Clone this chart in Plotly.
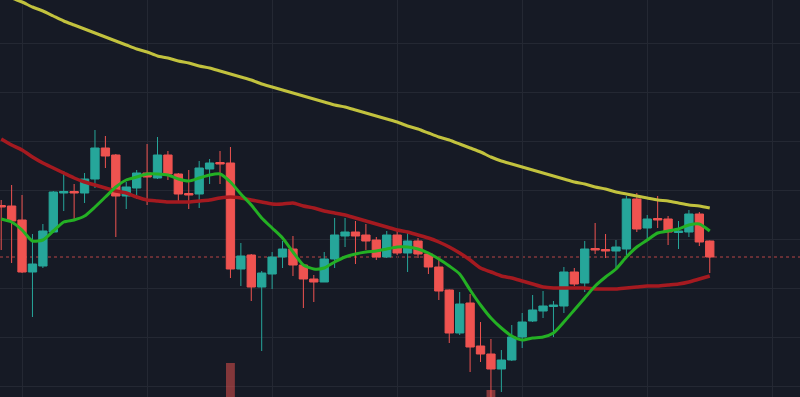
import plotly.graph_objects as go

# ---- data (prices) ----
idx = list(range(69))

opens = [29.45, 29.4, 28.0, 22.8, 23.4, 26.8, 30.7, 30.85, 30.7, 32.1,
         35.2, 34.5, 30.4, 31.2, 32.7, 32.2, 34.5, 32.6, 30.65, 30.6,
         33.1, 33.75, 33.7, 23.1, 24.5, 21.3, 22.6, 24.3, 25.1, 23.5,
         22.1, 21.8, 24.1, 26.4, 26.8, 26.5, 26.0, 24.3, 26.5, 24.7,
         25.9, 24.6, 23.3, 21.0, 16.7, 19.7, 15.4, 14.6, 13.1, 14.0,
         16.3, 17.9, 18.9, 19.35, 19.4, 22.8, 21.7, 25.15, 25.05, 24.9,
         25.1, 30.1, 27.2, 28.15, 28.1, 26.75, 26.8, 28.6, 25.9]
highs = [30.0, 31.5, 30.5, 26.6, 27.6, 30.9, 32.9, 31.6, 32.7, 37.0,
         36.4, 34.6, 31.8, 33.0, 35.6, 36.3, 34.9, 32.7, 33.0, 33.9,
         34.1, 34.9, 35.3, 25.7, 24.6, 22.9, 24.8, 25.9, 26.4, 23.5,
         22.5, 24.8, 28.2, 28.2, 27.9, 27.6, 26.3, 26.9, 27.0, 26.8,
         26.2, 24.65, 24.2, 21.05, 20.8, 20.6, 17.8, 16.1, 15.0, 17.5,
         18.7, 20.5, 20.9, 19.9, 23.3, 23.2, 25.9, 27.7, 26.6, 26.0,
         30.4, 30.7, 28.5, 30.4, 28.4, 27.9, 29.0, 28.8, 25.95]
lows = [25.0, 23.7, 22.7, 18.3, 23.2, 26.7, 28.9, 28.0, 29.7, 31.2,
        33.2, 26.3, 29.1, 30.1, 29.5, 32.1, 32.0, 29.9, 29.1, 29.2,
        31.6, 31.6, 22.2, 21.4, 19.9, 14.9, 21.1, 23.2, 22.4, 19.2,
        19.8, 21.8, 23.2, 25.3, 23.6, 25.0, 24.0, 24.2, 24.5, 22.8,
        24.2, 22.6, 20.0, 15.7, 16.5, 12.8, 13.8, 10.2, 10.8, 13.9,
        15.2, 17.8, 18.2, 16.3, 18.7, 21.4, 20.8, 24.6, 24.2, 23.2,
        24.5, 26.8, 26.0, 27.2, 25.5, 25.1, 26.3, 25.4, 22.7]
closes = [29.3, 27.9, 22.8, 23.6, 26.9, 30.8, 30.85, 30.7, 32.1, 35.2,
          34.4, 30.4, 31.3, 32.7, 32.3, 34.5, 32.6, 30.6, 30.5, 33.2,
          33.7, 33.6, 23.1, 24.4, 21.3, 22.7, 24.3, 25.1, 23.5, 22.1,
          21.8, 24.1, 26.5, 26.8, 26.4, 25.9, 24.3, 26.5, 24.7, 25.9,
          24.6, 23.3, 20.9, 16.7, 19.6, 15.3, 14.6, 13.1, 14.0, 16.3,
          17.8, 19.0, 19.4, 19.5, 22.8, 21.6, 25.1, 25.0, 24.9, 25.3,
          30.1, 27.1, 28.1, 28.0, 26.8, 26.9, 28.6, 25.8, 24.3]

volume = [0] * 69
volume[22] = 3400
volume[47] = 700

ma_fast = [28.1, 27.8, 27.0, 25.9, 26.0, 26.9, 27.8, 28.0, 28.4, 29.3,
           30.3, 31.3, 32.0, 32.3, 32.6, 32.6, 32.5, 32.1, 31.9, 32.2,
           32.5, 32.6, 31.8, 30.6, 29.5, 28.2, 27.2, 26.2, 24.8, 23.5,
           23.1, 23.2, 23.8, 24.3, 24.6, 24.8, 24.9, 25.1, 25.3, 25.3,
           25.1, 24.7, 24.1, 23.4, 22.6, 21.0, 19.5, 18.2, 17.2, 16.4,
           16.0, 16.2, 16.3, 16.7, 17.8, 19.0, 20.2, 21.4, 22.3, 23.1,
           24.3, 25.3, 26.0, 26.7, 26.9, 27.1, 27.5, 27.6, 26.9]
ma_mid = [36.1, 35.5, 35.0, 34.3, 33.7, 33.2, 32.7, 32.2, 31.8, 31.5,
          31.2, 30.9, 30.7, 30.3, 30.0, 29.9, 29.8, 29.8, 29.8, 29.9,
          30.0, 30.2, 30.3, 30.2, 30.0, 29.8, 29.6, 29.6, 29.7, 29.4,
          29.2, 28.9, 28.7, 28.5, 28.2, 27.9, 27.6, 27.3, 27.0, 26.8,
          26.5, 26.2, 25.8, 25.3, 24.7, 24.0, 23.2, 22.8, 22.4, 22.2,
          21.9, 21.6, 21.3, 21.2, 21.2, 21.2, 21.2, 21.1, 21.1, 21.1,
          21.2, 21.3, 21.4, 21.4, 21.5, 21.6, 21.8, 22.1, 22.4]
ma_slow = [50.7, 50.2, 49.8, 49.3, 48.9, 48.4, 47.9, 47.5, 47.1, 46.7,
           46.3, 45.9, 45.5, 45.1, 44.8, 44.4, 44.2, 43.9, 43.7, 43.4,
           43.2, 42.9, 42.6, 42.3, 42.0, 41.6, 41.3, 41.0, 40.7, 40.4,
           40.1, 39.8, 39.5, 39.3, 39.0, 38.7, 38.4, 38.1, 37.8, 37.4,
           37.1, 36.7, 36.3, 36.0, 35.6, 35.2, 34.8, 34.3, 33.9, 33.6,
           33.3, 33.0, 32.7, 32.4, 32.1, 31.8, 31.6, 31.3, 31.1, 30.8,
           30.6, 30.4, 30.2, 30.0, 29.9, 29.7, 29.5, 29.4, 29.2]

# ---- style ----
BG = "#161a25"
GRID = "#242833"
UP = "#26a69a"
DOWN = "#ef5350"

fig = go.Figure()

fig.add_trace(go.Bar(
    x=idx, y=volume, yaxis="y2", width=0.85,
    marker=dict(color="rgba(239,83,80,0.5)", line=dict(width=0)),
    hoverinfo="skip",
))

fig.add_trace(go.Candlestick(
    x=idx, open=opens, high=highs, low=lows, close=closes,
    increasing=dict(line=dict(color=UP, width=1), fillcolor=UP),
    decreasing=dict(line=dict(color=DOWN, width=1), fillcolor=DOWN),
    whiskerwidth=0,
))

fig.add_trace(go.Scatter(x=idx, y=ma_slow, mode="lines",
                         line=dict(color="rgb(194,194,62)", width=3, shape="spline", smoothing=0.6)))
fig.add_trace(go.Scatter(x=idx, y=ma_mid, mode="lines",
                         line=dict(color="rgb(165,26,32)", width=3.5, shape="spline", smoothing=0.6)))
fig.add_trace(go.Scatter(x=idx, y=ma_fast, mode="lines",
                         line=dict(color="rgb(36,176,36)", width=3, shape="spline", smoothing=0.6)))

fig.add_shape(type="line", xref="paper", x0=0, x1=1, yref="y",
              y0=closes[-1], y1=closes[-1],
              line=dict(color="rgba(239,83,80,0.75)", width=1, dash="dot"),
              layer="below")

fig.update_layout(
    width=800, height=397,
    margin=dict(l=0, r=0, t=0, b=0),
    paper_bgcolor=BG, plot_bgcolor=BG,
    showlegend=False,
    boxgap=0.2, boxgroupgap=0,
    xaxis=dict(range=[-0.115, 76.66], rangeslider=dict(visible=False),
               showgrid=True, gridcolor=GRID, gridwidth=1,
               tick0=2, dtick=12, showticklabels=False, ticks="",
               zeroline=False, showline=False, fixedrange=True),
    yaxis=dict(range=[10.3, 50.0], showgrid=True, gridcolor=GRID, gridwidth=1,
               tick0=26.1, dtick=4.9, showticklabels=False, ticks="",
               zeroline=False, showline=False),
    yaxis2=dict(range=[0, 39700], overlaying="y", showgrid=False,
                showticklabels=False, zeroline=False, visible=False),
)

fig.write_html(
    "out.html",
    config={"displayModeBar": False},
    post_script="document.body.style.margin='0';document.body.style.overflow='hidden';"
                "document.body.style.background='" + BG + "';",
)
